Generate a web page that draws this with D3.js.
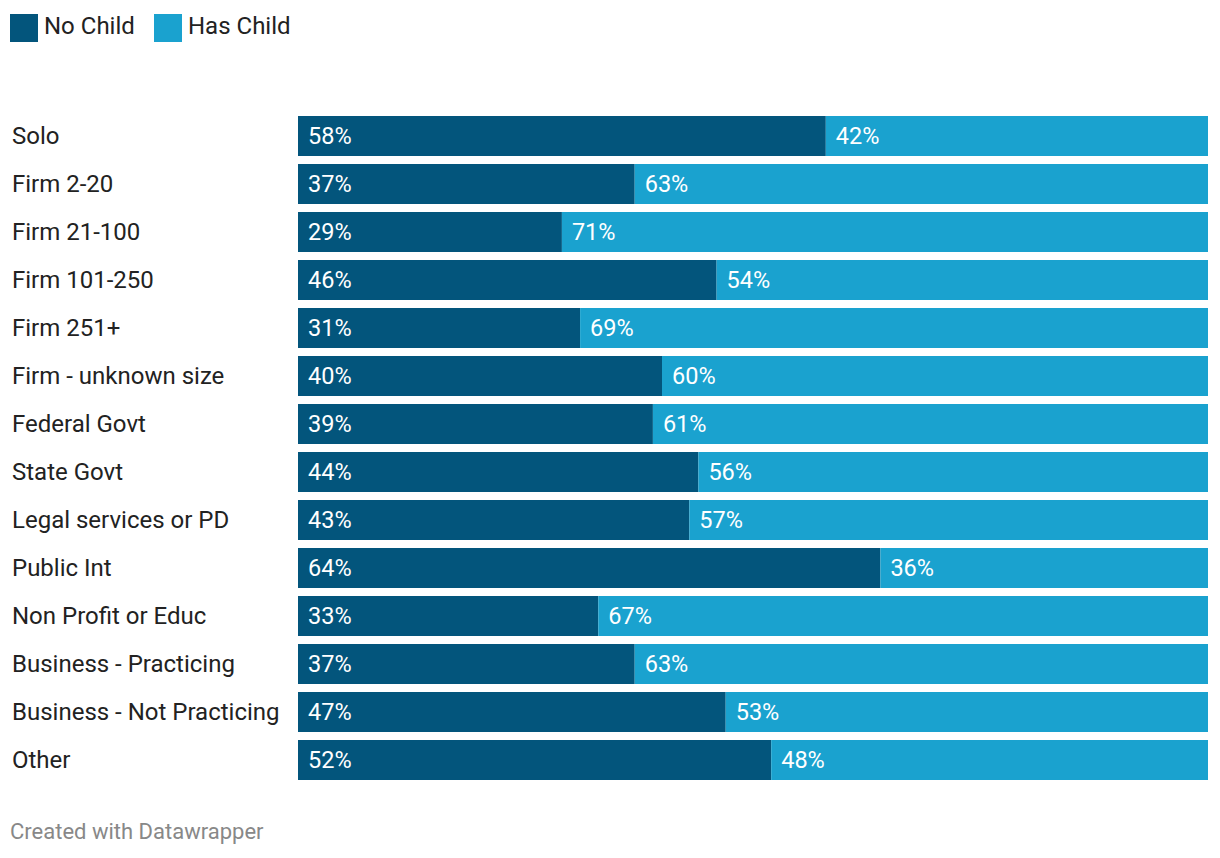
<!DOCTYPE html>
<html>
<head>
<meta charset="utf-8">
<script src="https://cdn.jsdelivr.net/npm/d3@7"></script>
<style>
  body { margin: 0; background: #fff; font-family: Roboto, sans-serif; }
</style>
</head>
<body>
<div id="chart"></div>
<script>
var categories = ['Solo', 'Firm 2-20', 'Firm 21-100', 'Firm 101-250', 'Firm 251+', 'Firm - unknown size',
    'Federal Govt', 'State Govt', 'Legal services or PD', 'Public Int', 'Non Profit or Educ',
    'Business - Practicing', 'Business - Not Practicing', 'Other']
var noChild = [58, 37, 29, 46, 31, 40, 39, 44, 43, 64, 33, 37, 47, 52]
var hasChild = [42, 63, 71, 54, 69, 60, 61, 56, 57, 36, 67, 63, 53, 48]
var seriesNames = ['No Child', 'Has Child']
var seriesColors = ['#03557c', '#1aa2cf']

var width = 1220, height = 858

var svg = d3.select('#chart').append('svg')
    .attr('width', width)
    .attr('height', height)

// legend
var legend = svg.append('g').attr('class', 'legend')
var legX = [10, 154]
seriesNames.forEach((name, i) => {
    legend.append('rect')
        .attr('x', legX[i]).attr('y', 14)
        .attr('width', 28).attr('height', 28)
        .style('fill', seriesColors[i])
    legend.append('text')
        .attr('x', legX[i] + 34).attr('y', 25.5)
        .attr('dy', '0.35em')
        .style('font-size', '24px')
        .style('fill', '#222')
        .text(name)
})

var xScale = d3.scaleLinear().domain([0, 100]).range([298, 1208])
var yScale = d3.scaleBand().domain(categories).range([112, 784]).paddingInner(1 / 6).paddingOuter(1 / 12)

var rows = svg.append('g').attr('class', 'rows')
    .selectAll('g')
    .data(categories).enter()
    .append('g')
    .attr('transform', d => `translate(0, ${yScale(d)})`)

rows.append('text')
    .attr('x', 12)
    .attr('y', yScale.bandwidth() / 2)
    .attr('dy', '0.35em')
    .style('font-size', '24px')
    .style('fill', '#222')
    .text(d => d)

rows.append('rect')
    .attr('x', xScale(0))
    .attr('width', (d, i) => xScale(noChild[i]) - xScale(0))
    .attr('height', yScale.bandwidth())
    .style('fill', seriesColors[0])

rows.append('rect')
    .attr('x', (d, i) => xScale(noChild[i]))
    .attr('width', (d, i) => xScale(noChild[i] + hasChild[i]) - xScale(noChild[i]))
    .attr('height', yScale.bandwidth())
    .style('fill', seriesColors[1])

rows.append('text')
    .attr('x', xScale(0) + 10)
    .attr('y', yScale.bandwidth() / 2)
    .attr('dy', '0.35em')
    .style('font-size', '23.5px')
    .style('fill', '#fff')
    .text((d, i) => noChild[i] + '%')

rows.append('text')
    .attr('x', (d, i) => xScale(noChild[i]) + 10)
    .attr('y', yScale.bandwidth() / 2)
    .attr('dy', '0.35em')
    .style('font-size', '23.5px')
    .style('fill', '#fff')
    .text((d, i) => hasChild[i] + '%')

svg.append('text')
    .attr('x', 10).attr('y', 831.5)
    .attr('dy', '0.35em')
    .style('font-size', '22px')
    .style('fill', '#888')
    .text('Created with Datawrapper')
</script>
</body>
</html>
